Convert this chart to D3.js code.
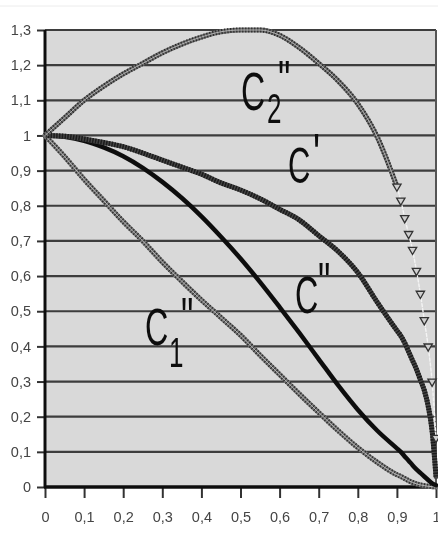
<!DOCTYPE html>
<html>
<head>
<meta charset="utf-8">
<script src="https://cdn.jsdelivr.net/npm/d3@7"></script>
<style>
  html, body { margin: 0; padding: 0; background: #fff; }
  svg { display: block; }
  text { font-family: "Liberation Sans", Arial, sans-serif; }
</style>
</head>
<body>
<svg id="chart" width="438" height="535"></svg>
<script>
// Sample positions along the horizontal axis (denser near 1 where C2'' drops)
const xs = [0, 0.05, 0.1, 0.15, 0.2, 0.25, 0.3, 0.35, 0.4, 0.45, 0.5, 0.55, 0.6, 0.65, 0.7, 0.75, 0.8, 0.85,
            0.9, 0.91, 0.92, 0.93, 0.94, 0.95, 0.96, 0.97, 0.98, 0.99, 1];

// Series values at each position
const c2pp = [1.0, 1.05, 1.10, 1.14, 1.175, 1.205, 1.235, 1.26, 1.28, 1.295, 1.30, 1.30, 1.285, 1.25, 1.205, 1.155, 1.09, 0.995,
              0.855, 0.815, 0.765, 0.72, 0.675, 0.615, 0.55, 0.475, 0.40, 0.30, 0.14];
const cp   = [1.0, 0.998, 0.99, 0.98, 0.968, 0.95, 0.93, 0.91, 0.89, 0.865, 0.845, 0.82, 0.79, 0.76, 0.715, 0.67, 0.61, 0.525,
              0.445, 0.43, 0.41, 0.385, 0.36, 0.335, 0.305, 0.275, 0.23, 0.16, 0.03];
const cpp  = [1.0, 0.996, 0.985, 0.966, 0.941, 0.908, 0.868, 0.822, 0.77, 0.712, 0.65, 0.583, 0.512, 0.439, 0.364, 0.289, 0.22, 0.16,
              0.11, 0.10, 0.087, 0.075, 0.062, 0.05, 0.04, 0.03, 0.02, 0.01, 0.005];
const c1pp = [1.0, 0.94, 0.875, 0.815, 0.755, 0.70, 0.64, 0.585, 0.532, 0.482, 0.432, 0.375, 0.32, 0.265, 0.212, 0.16, 0.112, 0.07,
              0.035, 0.03, 0.024, 0.018, 0.013, 0.009, 0.006, 0.004, 0.002, 0.001, 0];

// Axis ticks
const xTicks = [0, 0.1, 0.2, 0.3, 0.4, 0.5, 0.6, 0.7, 0.8, 0.9, 1];
const yTicks = [0, 0.1, 0.2, 0.3, 0.4, 0.5, 0.6, 0.7, 0.8, 0.9, 1, 1.1, 1.2, 1.3];

const svg = d3.select("#chart");
const plotL = 45, plotR = 436, plotT = 30, plotB = 487;

const x = d3.scaleLinear().domain([0, 1]).range([plotL, plotR]);
const y = d3.scaleLinear().domain([0, 1.3]).range([plotB, plotT]);

const fmt = d3.formatLocale({ decimal: ",", thousands: " ", grouping: [3], currency: ["", ""] }).format("~g");

// soft focus for the whole drawing
const defs = svg.append("defs");
defs.append("filter").attr("id", "soft")
  .append("feGaussianBlur").attr("stdDeviation", 0.55);

const g = svg.append("g").attr("filter", "url(#soft)");

// faint rule near the top edge
g.append("line").attr("x1", 0).attr("x2", 438).attr("y1", 6).attr("y2", 6)
  .attr("stroke", "#ececec").attr("stroke-width", 1);

// plot area
g.append("rect").attr("x", plotL).attr("y", plotT)
  .attr("width", plotR - plotL).attr("height", plotB - plotT)
  .attr("fill", "#d9d9d9");

// horizontal grid
g.append("g").selectAll("line").data(yTicks.filter(d => d > 0)).join("line")
  .attr("x1", plotL).attr("x2", plotR)
  .attr("y1", d => y(d)).attr("y2", d => y(d))
  .attr("stroke", "#3c3c3c").attr("stroke-width", 2.2);

// right border
g.append("line").attr("x1", plotR).attr("x2", plotR).attr("y1", plotT).attr("y2", plotB)
  .attr("stroke", "#555").attr("stroke-width", 2);

// axes
const yAxis = d3.axisLeft(y).tickValues(yTicks).tickFormat(fmt).tickSize(8).tickPadding(6);
const xAxis = d3.axisBottom(x).tickValues(xTicks).tickFormat(fmt).tickSize(11).tickPadding(14);

const ya = g.append("g").attr("transform", `translate(${plotL},0)`).call(yAxis);
const xa = g.append("g").attr("transform", `translate(0,${plotB})`).call(xAxis);
[ya, xa].forEach(a => {
  a.select(".domain").remove();
  a.selectAll(".tick line").attr("stroke", "#333").attr("stroke-width", 2);
  a.selectAll(".tick text").attr("fill", "#444").attr("font-size", 14.5)
    .attr("font-family", "'Liberation Sans', Arial, sans-serif");
});

// axis lines
g.append("line").attr("x1", plotL).attr("x2", plotL).attr("y1", plotT).attr("y2", plotB + 1)
  .attr("stroke", "#111").attr("stroke-width", 3);
g.append("line").attr("x1", plotL - 1).attr("x2", plotR + 1).attr("y1", plotB).attr("y2", plotB)
  .attr("stroke", "#111").attr("stroke-width", 3.5);

// curve path through the samples kept by `keep`
const lineSub = (vals, keep) => {
  const idx = xs.map((v, i) => i).filter(i => keep(xs[i]));
  return d3.line().x(i => x(xs[i])).y(i => y(vals[i])).curve(d3.curveMonotoneX)(idx);
};
const all = () => true;

const curves = g.append("g").attr("fill", "none").attr("stroke-linecap", "round");

// C1'' : textured ribbon of hollow markers
curves.append("path").attr("d", lineSub(c1pp, all))
  .attr("stroke", "#7a7a7a").attr("stroke-width", 5);
curves.append("path").attr("d", lineSub(c1pp, all))
  .attr("stroke", "#2e2e2e").attr("stroke-width", 5).attr("stroke-dasharray", "1.2,1.8").attr("stroke-linecap", "butt");
curves.append("path").attr("d", lineSub(c1pp, all))
  .attr("stroke", "#b5b5b5").attr("stroke-width", 1);

// C'' : solid black
curves.append("path").attr("d", lineSub(cpp, all))
  .attr("stroke", "#111").attr("stroke-width", 4.5);

// C' : dark textured ribbon
curves.append("path").attr("d", lineSub(cp, all))
  .attr("stroke", "#444").attr("stroke-width", 5);
curves.append("path").attr("d", lineSub(cp, all))
  .attr("stroke", "#1a1a1a").attr("stroke-width", 5).attr("stroke-dasharray", "1.4,1.4").attr("stroke-linecap", "butt");

// C2'' : dense ribbon, then sparse triangle markers on the steep drop
curves.append("path").attr("d", lineSub(c2pp, v => v <= 0.9))
  .attr("stroke", "#6e6e6e").attr("stroke-width", 5);
curves.append("path").attr("d", lineSub(c2pp, v => v <= 0.9))
  .attr("stroke", "#2a2a2a").attr("stroke-width", 5).attr("stroke-dasharray", "1.2,1.8").attr("stroke-linecap", "butt");
curves.append("path").attr("d", lineSub(c2pp, v => v <= 0.9))
  .attr("stroke", "#bdbdbd").attr("stroke-width", 0.9);
curves.append("path").attr("d", lineSub(c2pp, v => v >= 0.9))
  .attr("stroke", "#f4f4f4").attr("stroke-width", 1.4).attr("stroke-dasharray", "3,2");

const tri = d3.symbol().type(d3.symbolTriangle).size(30);
g.append("g").selectAll("path").data(xs.map((v, i) => i).filter(i => xs[i] >= 0.9)).join("path")
  .attr("d", tri)
  .attr("transform", i => `translate(${x(xs[i])},${y(c2pp[i])}) rotate(180)`)
  .attr("fill", "#cfcfcf").attr("stroke", "#333").attr("stroke-width", 1.3);

// curve labels: a condensed "C" with optional subscript and prime marks in one text element
const lab = g.append("g").attr("fill", "#111");
const sx = 0.62;
function curveLabel(lx, baseline, cSize, sub, primes) {
  const t = lab.append("text")
    .attr("transform", `translate(${lx},${baseline}) scale(${sx},1)`);
  t.append("tspan").attr("x", 0).attr("y", 0).attr("font-size", cSize).text("C");
  if (sub) t.append("tspan").attr("x", (sub.px - lx) / sx).attr("y", sub.dy)
    .attr("font-size", sub.size).text(sub.text);
  t.append("tspan").attr("x", (primes.px - lx) / sx).attr("y", primes.dy)
    .attr("font-size", primes.size).text(primes.text);
}
curveLabel(241, 110, 54, { text: "2", px: 267, dy: 13, size: 42 }, { text: "\"", px: 278, dy: -11, size: 56 });
curveLabel(288, 183, 50, null, { text: "'", px: 313, dy: -8, size: 60 });
curveLabel(295, 313, 52, null, { text: "\"", px: 318, dy: -12, size: 56 });
curveLabel(145, 345, 52, { text: "1", px: 169, dy: 22, size: 42 }, { text: "\"", px: 181, dy: -9, size: 56 });
</script>
</body>
</html>
